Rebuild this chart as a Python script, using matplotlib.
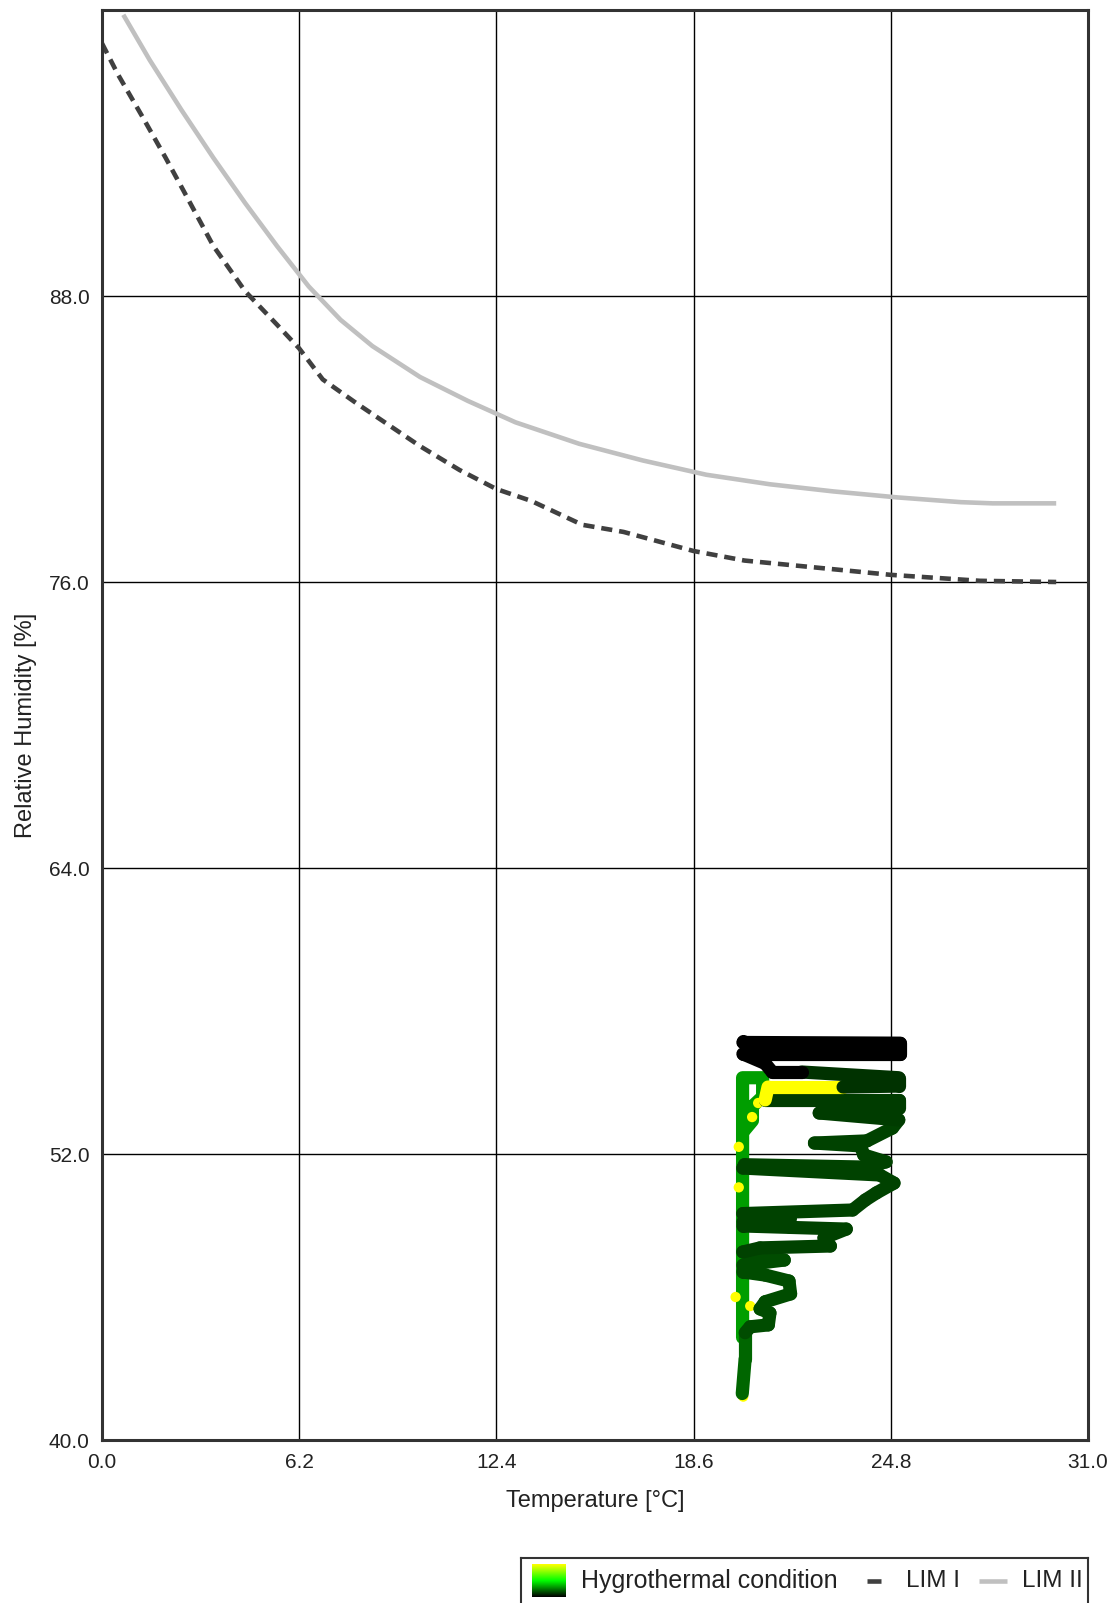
import numpy as np
import matplotlib
matplotlib.use('Agg')
import matplotlib.pyplot as plt
from matplotlib.collections import LineCollection
from matplotlib.colors import LinearSegmentedColormap, Normalize

plt.rcParams['font.family'] = ['Liberation Sans', 'DejaVu Sans']
plt.rcParams['lines.scale_dashes'] = False

# ── axis ticks ──
x_ticks = [0.0, 6.2, 12.4, 18.6, 24.8, 31.0]
y_ticks = [40.0, 52.0, 64.0, 76.0, 88.0]

# ── limit curves (LIM I / LIM II) ──
lim1_t = [0.0, 0.5, 1.28, 2.0, 2.57, 3.5, 4.5, 5.5, 6.2, 6.94, 8.0, 9.0, 10.0,
          11.24, 12.4, 13.5, 15.1, 16.4, 18.6, 20.2, 22.5, 24.8, 27.6, 30.0]
lim1_rh = [98.6, 97.3, 95.5, 93.8, 92.4, 90.1, 88.2, 86.8, 85.8, 84.5, 83.5, 82.6, 81.7,
           80.7, 79.9, 79.4, 78.4, 78.1, 77.3, 76.9, 76.6, 76.3, 76.05, 76.0]

lim2_t = [0.67, 1.5, 2.5, 3.5, 4.5, 5.5, 6.5, 7.5, 8.5, 10.0, 11.5, 13.0, 15.0,
          17.0, 19.0, 21.0, 23.0, 25.0, 27.0, 28.0, 30.0]
lim2_rh = [99.8, 97.9, 95.8, 93.8, 91.9, 90.1, 88.4, 87.0, 85.9, 84.6, 83.6, 82.7, 81.8,
           81.1, 80.5, 80.1, 79.8, 79.55, 79.35, 79.3, 79.3]

# ── measured hygrothermal trace (temperature, RH, colour value) ──
trace_t = [20.13, 20.22, 20.22, 20.38, 20.95, 21.00, 20.69, 20.85, 21.65, 21.60,
           20.85, 20.15, 20.15, 21.45, 20.69, 20.15, 20.69, 22.90, 22.70, 23.40,
           21.64, 20.15, 20.15, 21.64, 20.15, 23.60, 24.00, 24.35, 24.90, 24.45,
           20.15, 20.20, 24.05, 24.65, 23.95, 23.85, 22.40, 24.05, 24.85, 25.05,
           22.55, 25.05, 25.05, 20.85, 20.94, 23.30, 25.05, 25.05, 22.00, 21.07,
           20.85, 20.15, 25.10, 25.10, 20.15, 20.15]
trace_rh = [41.95, 43.40, 44.50, 44.75, 44.83, 45.33, 45.50, 45.80, 46.13, 46.67,
            46.92, 47.05, 47.34, 47.55, 47.72, 47.89, 48.06, 48.14, 48.48, 48.85,
            48.92, 48.98, 49.15, 49.30, 49.50, 49.65, 50.07, 50.37, 50.78, 51.12,
            51.41, 51.55, 51.45, 51.67, 51.96, 52.34, 52.46, 52.55, 53.09, 53.43,
            53.72, 53.93, 54.27, 54.27, 54.81, 54.81, 54.85, 55.20, 55.44, 55.44,
            55.80, 56.20, 56.20, 56.65, 56.68, 56.75]
trace_val = [0.20, 0.20, 0.20, 0.15, 0.15, 0.15, 0.15, 0.15, 0.15, 0.15,
             0.15, 0.15, 0.15, 0.15, 0.15, 0.15, 0.13, 0.13, 0.13, 0.13,
             0.13, 0.13, 0.13, 0.13, 0.13, 0.13, 0.13, 0.13, 0.13, 0.13,
             0.13, 0.13, 0.13, 0.13, 0.13, 0.13, 0.13, 0.13, 0.13, 0.13,
             0.12, 0.12, 0.12, 0.12, 1.00, 1.00, 0.10, 0.10, 0.10, 0.00,
             0.00, 0.00, 0.00, 0.00, 0.00, 0.00]

# steady part near the heating set point
column_t = [20.14, 20.14, 20.77, 20.77, 20.45, 20.45, 20.20]
column_rh = [44.3, 55.2, 55.2, 54.4, 54.0, 53.4, 53.0]
column_val = 0.31

# isolated high-value readings
spot_t = [20.16, 20.38, 19.92, 20.44, 20.63, 20.02, 20.02]
spot_rh = [41.82, 45.62, 46.00, 53.55, 54.14, 52.30, 50.60]

cmap = LinearSegmentedColormap.from_list('hygro', ['#000000', '#00ff00', '#ffff00'])

W, H = 1115, 1603
fig = plt.figure(figsize=(W / 100, H / 100), dpi=100)
fig.patch.set_facecolor('white')

ax = fig.add_axes([102 / W, (H - 1440) / H, 986 / W, 1430 / H])
ax.set_xlim(0, 31)
ax.set_ylim(40, 100)
ax.set_xticks(x_ticks)
ax.set_yticks(y_ticks)
ax.set_xticklabels([f'{v:.1f}' for v in x_ticks])
ax.set_yticklabels([f'{v:.1f}' for v in y_ticks])
ax.tick_params(length=0, pad=9, labelsize=15, colors='#222222')
ax.set_axisbelow(True)
ax.grid(True, color='black', lw=1.0)
for s in ax.spines.values():
    s.set_color('#333333')
    s.set_linewidth(2.2)

ax.set_xlabel('Temperature [°C]', fontsize=17, color='#222222')
ax.set_ylabel('Relative Humidity [%]', fontsize=17, color='#222222')
ax.xaxis.set_label_coords(0.5, -0.035)
ax.yaxis.set_label_coords(-0.066, 0.5)

# limit curves
ax.plot(lim2_t, lim2_rh, color='#c0c0c0', lw=3.3, solid_capstyle='butt',
        solid_joinstyle='round', zorder=2)
ax.plot(lim1_t, lim1_rh, color='#404040', lw=3.3, dashes=(8, 5), zorder=2)

# trace
ax.plot(column_t, column_rh, color=cmap(column_val), lw=9.5,
        solid_capstyle='round', solid_joinstyle='round', zorder=3)
ax.scatter(spot_t, spot_rh, s=55, color='#ffff00', edgecolor='none', zorder=3.5)
pts = np.column_stack([trace_t, trace_rh])
segs = np.stack([pts[:-1], pts[1:]], axis=1)
lc = LineCollection(segs, cmap=cmap, norm=Normalize(0, 1), linewidths=9.5,
                    capstyle='round', joinstyle='round', zorder=4)
lc.set_array(np.array(trace_val[1:]))
ax.add_collection(lc)

# ── legend box ──
lax = fig.add_axes([521 / W, -16 / H, 567 / W, 61 / H])
grad = np.linspace(1, 0, 64).reshape(-1, 1)
lax.imshow(grad, cmap=cmap, extent=(532, 566, 1597, 1564), aspect='auto')
lax.set_xlim(521, 1088)
lax.set_ylim(1619, 1558)
lax.set_xticks([])
lax.set_yticks([])
for s in lax.spines.values():
    s.set_color('#333333')
    s.set_linewidth(1.5)
lax.text(581, 1581, 'Hygrothermal condition', va='center', fontsize=18, color='#222222')
lax.plot([867, 881], [1581, 1581], color='#404040', lw=3.3, solid_capstyle='butt')
lax.text(906, 1581, 'LIM I', va='center', fontsize=17.5, color='#222222')
lax.plot([979, 1007], [1581, 1581], color='#c0c0c0', lw=3.3, solid_capstyle='butt')
lax.text(1022, 1581, 'LIM II', va='center', fontsize=17.5, color='#222222')

fig.savefig('out.png', dpi=100, facecolor='white')
